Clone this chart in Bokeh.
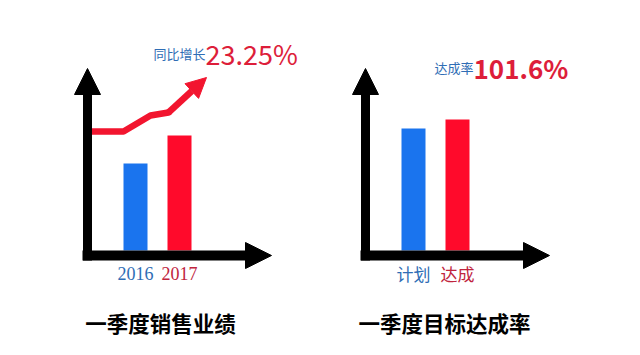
from bokeh.plotting import figure
from bokeh.models import Range1d, Arrow, NormalHead, ColumnDataSource
from bokeh.core.properties import value
from bokeh.embed import file_html
from bokeh.resources import INLINE

# ---- data ----
categories_left = ["2016", "2017"]
values_left = [87, 115]
categories_right = ["计划", "达成"]
values_right = [122, 131]
titles = ["一季度销售业绩", "一季度目标达成率"]
growth_prefix = "同比增长"
growth_value = "23.25%"
rate_prefix = "达成率"
rate_value = "101.6%"
trend_x = [88, 123, 150, 168, 206]
trend_y = [119, 119, 135, 138, 173]

# ---- style ----
BLUE = "#1A74EE"
RED = "#FF0A2B"
TREND = "#F2152F"
BLUE_TXT = "#2F6DB5"
RED_TXT = "#C0243D"
NUM_RED = "#DD1E3A"
CJK = "Noto Sans CJK SC"

p = figure(width=640, height=355, x_range=Range1d(0, 640), y_range=Range1d(-105, 250),
           output_backend="svg", toolbar_location=None, min_border=0,
           x_axis_type=None, y_axis_type=None)
p.grid.visible = False
p.outline_line_color = None
p.background_fill_color = "white"

panel_axis_x = [87, 365]
bar_offset = 48
bar_gap = 44
bar_width = 24
axis_top = 182
axis_right_len = 184

panels = [(categories_left, values_left), (categories_right, values_right)]
for k, (cats, vals) in enumerate(panels):
    ax = panel_axis_x[k]
    xs = [ax + bar_offset + i * bar_gap for i in range(len(cats))]
    src = ColumnDataSource(dict(x=xs, top=vals, color=[BLUE, RED], tcolor=[BLUE_TXT, RED_TXT], label=cats))
    p.vbar(x="x", top="top", bottom=0, width=bar_width, fill_color="color", line_color=None, source=src)
    # axes as arrows
    p.add_layout(Arrow(end=NormalHead(size=26, fill_color="black", line_color="black"),
                       x_start=ax, y_start=-10, x_end=ax, y_end=axis_top,
                       line_width=9, line_color="black"))
    p.add_layout(Arrow(end=NormalHead(size=26, fill_color="black", line_color="black"),
                       x_start=ax - 5, y_start=-5, x_end=ax + axis_right_len, y_end=-5,
                       line_width=10, line_color="black"))
    # category labels
    if k == 0:
        p.text(x="x", y=-23, text="label", text_color="tcolor", source=src,
               text_font=value("Liberation Serif"), text_font_size="18px",
               text_align="center", text_baseline="middle")
    else:
        p.text(x="x", y=-23, text="label", text_color="tcolor", source=src,
               text_font=value(CJK), text_font_size="17px",
               text_align="center", text_baseline="middle")

# trend line with arrow
p.line(trend_x[:-1], trend_y[:-1], line_width=6.5, line_color=TREND,
       line_join="round", line_cap="round")
p.add_layout(Arrow(end=NormalHead(size=20, fill_color=TREND, line_color=TREND),
                   x_start=trend_x[-2], y_start=trend_y[-2], x_end=trend_x[-1], y_end=trend_y[-1],
                   line_width=6.5, line_color=TREND))

# headline figures
p.text(x=[205], y=[197], text=[growth_prefix], text_color=BLUE_TXT,
       text_font=value(CJK), text_font_size="13px", text_align="right", text_baseline="alphabetic")
p.text(x=[205], y=[197], text=[growth_value], text_color=NUM_RED,
       text_font=value(CJK), text_font_size="27px", text_align="left", text_baseline="alphabetic")
p.text(x=[473], y=[183], text=[rate_prefix], text_color=BLUE_TXT,
       text_font=value(CJK), text_font_size="13px", text_align="right", text_baseline="alphabetic")
p.text(x=[473], y=[183], text=[rate_value], text_color=NUM_RED,
       text_font=value(CJK), text_font_size="26px", text_font_style="bold",
       text_align="left", text_baseline="alphabetic")

# panel titles
p.text(x=[160, 444], y=[-72, -72], text=titles, text_color="black",
       text_font=value(CJK), text_font_size="21.5px", text_font_style="bold",
       text_align="center", text_baseline="middle")

open("out.html", "w").write(file_html(p, INLINE))
